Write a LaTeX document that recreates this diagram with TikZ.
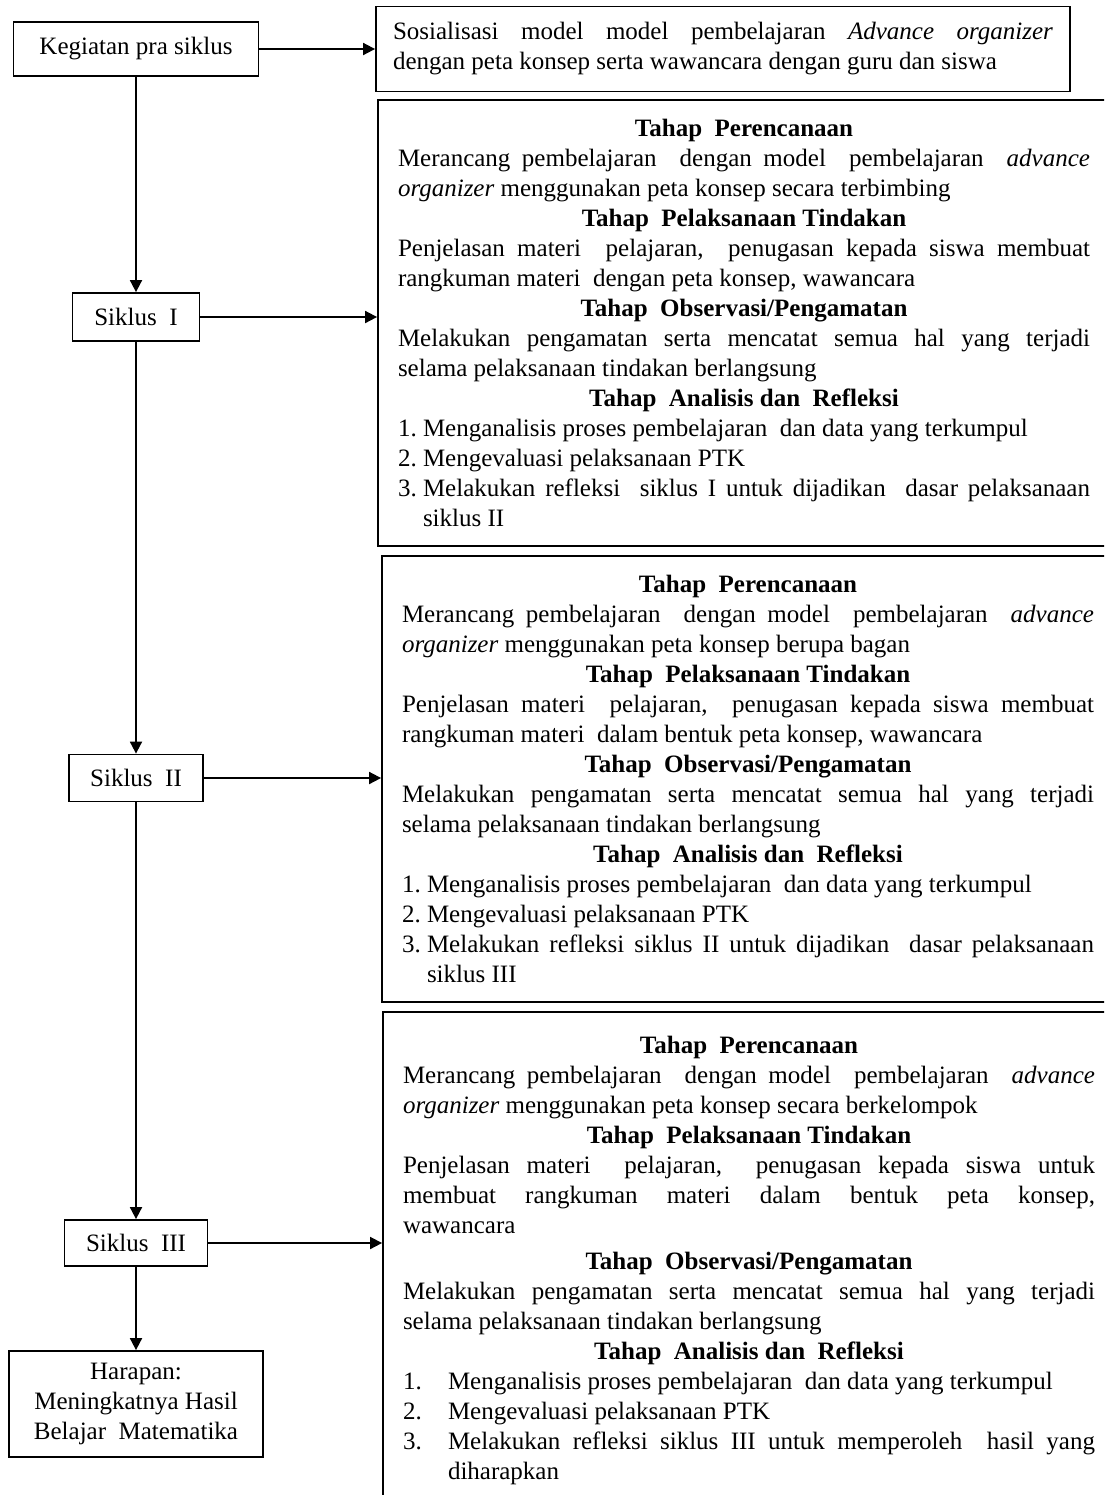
\documentclass[tikz,border=0pt]{standalone}
\usepackage{fontspec}
\setmainfont{Liberation Serif}
\usetikzlibrary{arrows.meta}
\newcommand{\tahap}[1]{{\centering\bfseries #1\par}}
\newcommand{\butir}[3]{\hangindent=#1\hangafter=1 \makebox[#1][l]{#2}#3\par}
\begin{document}
\begin{tikzpicture}[>={Triangle[length=6pt,width=6pt]}, x=.5pt, y=-.5pt, line width=.9pt,
  kotak/.style={draw, align=center, font=\fontsize{12.5}{15}\selectfont, inner sep=2pt},
  uraian/.style={draw, align=justify, font=\fontsize{12.5}{15}\selectfont, inner xsep=10pt,
    execute at begin node=\setlength{\parindent}{0pt}}]
\useasboundingbox (0,0) rectangle (1104,1495);
\clip (0,0) rectangle (1104,1495);
\node[kotak, minimum width=122.5pt, minimum height=27pt] (pra) at (136,49) {Kegiatan pra siklus};
\node[kotak, minimum width=63.5pt, minimum height=24pt] (s1) at (136,317) {Siklus\ \ I};
\node[kotak, minimum width=67pt, minimum height=23.5pt] (s2) at (136,778) {Siklus\ \ II};
\node[kotak, minimum width=71.5pt, minimum height=23pt] (s3) at (136,1243) {Siklus\ \ III};
\node[kotak, minimum width=127pt, minimum height=53pt] (har) at (136,1404) {Harapan:\\Meningkatnya Hasil\\Belajar\ \ Matematika};
\node[uraian, text width=330pt, inner xsep=8.5pt, minimum height=42.5pt] (sos) at (723,49) {%
\parfillskip=0pt Sosialisasi model model pembelajaran \textit{Advance organizer}\linebreak
dengan peta konsep serta wawancara dengan guru dan siswa};
\node[uraian, text width=346pt, minimum height=223pt] (b1) at (744,323) {%
\tahap{Tahap\ \ Perencanaan}
Merancang pembelajaran\ \ dengan model\ \ pembelajaran\ \ \textit{advance}\linebreak
\textit{organizer} menggunakan peta konsep secara terbimbing\par
\tahap{Tahap\ \ Pelaksanaan Tindakan}
Penjelasan materi\ \ pelajaran,\ \ penugasan kepada siswa membuat\linebreak
rangkuman materi\ \ dengan peta konsep, wawancara\par
\tahap{Tahap\ \ Observasi/Pengamatan}
Melakukan pengamatan serta mencatat semua hal yang terjadi\linebreak
selama pelaksanaan tindakan berlangsung\par
\tahap{Tahap\ \ Analisis dan\ \ Refleksi}
\butir{1em}{1.}{Menganalisis proses pembelajaran\ \ dan data yang terkumpul}
\butir{1em}{2.}{Mengevaluasi pelaksanaan PTK}
\butir{1em}{3.}{Melakukan refleksi\ \ siklus I untuk dijadikan\ \ dasar pelaksanaan\linebreak siklus II}};
\node[uraian, text width=346pt, minimum height=223pt] (b2) at (748,779) {%
\tahap{Tahap\ \ Perencanaan}
Merancang pembelajaran\ \ dengan model\ \ pembelajaran\ \ \textit{advance}\linebreak
\textit{organizer} menggunakan peta konsep berupa bagan\par
\tahap{Tahap\ \ Pelaksanaan Tindakan}
Penjelasan materi\ \ pelajaran,\ \ penugasan kepada siswa membuat\linebreak
rangkuman materi\ \ dalam bentuk peta konsep, wawancara\par
\tahap{Tahap\ \ Observasi/Pengamatan}
Melakukan pengamatan serta mencatat semua hal yang terjadi\linebreak
selama pelaksanaan tindakan berlangsung\par
\tahap{Tahap\ \ Analisis dan\ \ Refleksi}
\butir{1em}{1.}{Menganalisis proses pembelajaran\ \ dan data yang terkumpul}
\butir{1em}{2.}{Mengevaluasi pelaksanaan PTK}
\butir{1em}{3.}{Melakukan refleksi siklus II untuk dijadikan\ \ dasar pelaksanaan\linebreak siklus III}};
\node[uraian, text width=346pt, minimum height=248pt] (b3) at (749,1260) {%
\tahap{Tahap\ \ Perencanaan}
Merancang pembelajaran\ \ dengan model\ \ pembelajaran\ \ \textit{advance}\linebreak
\textit{organizer} menggunakan peta konsep secara berkelompok\par
\tahap{Tahap\ \ Pelaksanaan Tindakan}
Penjelasan materi\ \ pelajaran,\ \ penugasan kepada siswa untuk\linebreak
membuat rangkuman materi dalam bentuk peta konsep,\linebreak
wawancara\par\vspace{3pt}
\tahap{Tahap\ \ Observasi/Pengamatan}
Melakukan pengamatan serta mencatat semua hal yang terjadi\linebreak
selama pelaksanaan tindakan berlangsung\par
\tahap{Tahap\ \ Analisis dan\ \ Refleksi}
\butir{1.8em}{1.}{Menganalisis proses pembelajaran\ \ dan data yang terkumpul}
\butir{1.8em}{2.}{Mengevaluasi pelaksanaan PTK}
\butir{1.8em}{3.}{Melakukan refleksi siklus III untuk memperoleh\ \ hasil yang\linebreak diharapkan}};
\draw[->] (pra) -- (sos);
\draw[->] (pra) -- (s1);
\draw[->] (s1) -- (s2);
\draw[->] (s2) -- (s3);
\draw[->] (s3) -- (har);
\draw[->] (s1.east) -- (s1.east -| b1.west);
\draw[->] (s2.east) -- (s2.east -| b2.west);
\draw[->] (s3.east) -- (s3.east -| b3.west);
\end{tikzpicture}
\end{document}
